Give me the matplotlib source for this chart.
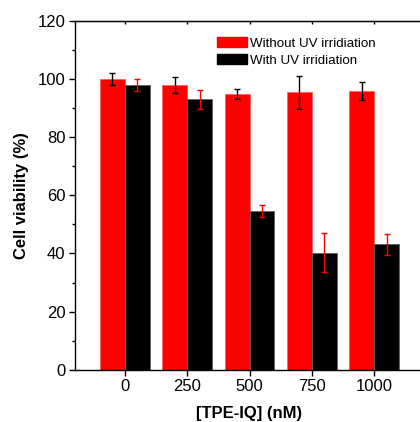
import matplotlib.pyplot as plt
import matplotlib.patches as mpatches
import numpy as np

plt.rcParams['font.family'] = ['Liberation Sans', 'DejaVu Sans']

concentrations = ['0', '250', '500', '750', '1000']
no_uv = [100.0, 98.1, 94.8, 95.4, 95.9]
no_uv_err = [2.0, 2.8, 1.7, 5.8, 3.2]
with_uv = [97.9, 93.0, 54.6, 40.3, 43.1]
with_uv_err = [2.0, 3.2, 2.0, 6.7, 3.6]
labels = ['Without UV irridiation', 'With UV irridiation']

fig = plt.figure(figsize=(4.2, 4.22), dpi=100)
ax = fig.add_axes([75 / 420, 52.3 / 422, 349 / 420, 348.7 / 422])

x = np.arange(len(concentrations))
w = 0.4
ax.bar(x - w / 2, no_uv, w, color='#ff0000', edgecolor='#ff6060', linewidth=0.6)
ax.bar(x + w / 2, with_uv, w, color='black', edgecolor='#606060', linewidth=0.6)
ax.errorbar(x - w / 2, no_uv, yerr=no_uv_err, fmt='none', ecolor='black',
            elinewidth=1, capsize=2.2, capthick=1)
ax.errorbar(x + w / 2, with_uv, yerr=with_uv_err, fmt='none', ecolor='red',
            elinewidth=1, capsize=2.2, capthick=1)

ax.set_xlim(-0.8, 4.8)
ax.set_ylim(0, 120)
ax.set_xticks(x)
ax.set_xticklabels(concentrations)
ax.set_yticks(np.arange(0, 121, 20))
ax.set_yticks(np.arange(10, 120, 20), minor=True)
ax.tick_params(axis='both', which='major', direction='out', length=4, width=1,
               labelsize=12, pad=3)
ax.tick_params(axis='y', which='minor', direction='out', length=2.5, width=1)
ax.tick_params(axis='x', which='minor', bottom=False)
for s in ax.spines.values():
    s.set_linewidth(1)
ax.spines['right'].set_visible(False)

# inward ticks on the top axis
top = ax.secondary_xaxis('top')
top.set_xticks(x)
top.set_xticklabels([])
top.tick_params(direction='in', length=2.5, width=1)

ax.set_xlabel('[TPE-IQ] (nM)', fontsize=12, fontweight='bold', labelpad=8)
ax.set_ylabel('Cell viability (%)', fontsize=12, fontweight='bold', labelpad=6)

handles = [mpatches.Patch(color='#ff0000'), mpatches.Patch(color='black')]
ax.legend(handles, labels, loc='upper left', bbox_to_anchor=(0.406, 0.955),
          frameon=False, fontsize=9.6, handlelength=2.25, handleheight=0.85,
          handletextpad=0.25, labelspacing=0.3, borderpad=0, borderaxespad=0)

fig.savefig('out.png', dpi=100)
